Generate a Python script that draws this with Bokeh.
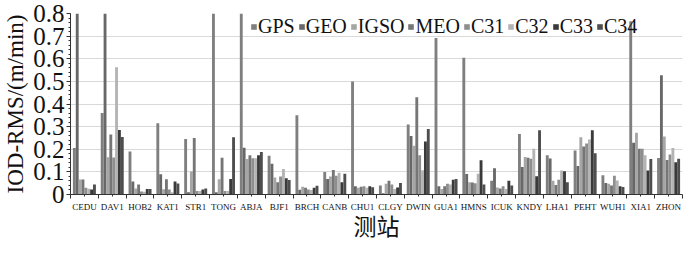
import numpy as np
from bokeh.plotting import figure
from bokeh.models import (Range1d, FixedTicker, SingleIntervalTicker, CustomJSTickFormatter,
                          Legend, LegendItem, ColumnDataSource)
from bokeh.embed import file_html
from bokeh.resources import INLINE

stations = ["CEDU", "DAV1", "HOB2", "KAT1", "STR1", "TONG", "ABJA", "BJF1", "BRCH", "CANB", "CHU1",
            "CLGY", "DWIN", "GUA1", "HMNS", "ICUK", "KNDY", "LHA1", "PEHT", "WUH1", "XIA1", "ZHON"]
series_names = ["GPS", "GEO", "IGSO", "MEO", "C31", "C32", "C33", "C34"]

GPS = [0.205, 0.36, 0.19, 0.315, 0.245, 0.9, 0.9, 0.171, 0.35, 0.099, 0.5, 0.04, 0.309, 0.692, 0.604, 0.061, 0.267, 0.174, 0.195, 0.085, 0.766, 0.161]
GEO = [0.9, 0.9, 0.057, 0.09, 0.01, 0.01, 0.207, 0.136, 0.021, 0.068, 0.037, 0.005, 0.259, 0.037, 0.091, 0.116, 0.122, 0.159, 0.126, 0.051, 0.229, 0.527]
IGSO = [0.066, 0.165, 0.026, 0.023, 0.102, 0.067, 0.157, 0.075, 0.034, 0.08, 0.03, 0.047, 0.215, 0.024, 0.054, 0.031, 0.166, 0.061, 0.253, 0.047, 0.273, 0.256]
MEO = [0.066, 0.265, 0.044, 0.067, 0.25, 0.162, 0.174, 0.054, 0.03, 0.108, 0.034, 0.061, 0.43, 0.037, 0.053, 0.027, 0.162, 0.042, 0.212, 0.04, 0.202, 0.152]
C31 = [0.03, 0.164, 0.013, 0.022, 0.015, 0.016, 0.16, 0.08, 0.022, 0.083, 0.037, 0.044, 0.174, 0.047, 0.05, 0.037, 0.158, 0.065, 0.225, 0.083, 0.202, 0.177]
C32 = [0.025, 0.562, 0.012, 0.01, 0.015, 0.016, 0.16, 0.113, 0.02, 0.096, 0.03, 0.024, 0.107, 0.044, 0.092, 0.024, 0.202, 0.106, 0.243, 0.062, 0.174, 0.206]
C33 = [0.022, 0.285, 0.024, 0.058, 0.022, 0.068, 0.173, 0.072, 0.03, 0.054, 0.037, 0.031, 0.234, 0.065, 0.151, 0.061, 0.081, 0.103, 0.284, 0.037, 0.106, 0.143]
C34 = [0.044, 0.254, 0.024, 0.049, 0.026, 0.253, 0.188, 0.064, 0.039, 0.092, 0.032, 0.051, 0.289, 0.068, 0.044, 0.04, 0.284, 0.054, 0.182, 0.033, 0.157, 0.158]

all_series = [GPS, GEO, IGSO, MEO, C31, C32, C33, C34]
colors = ["#7f7f7f", "#686868", "#a6a6a6", "#767676", "#8e8e8e", "#b4b4b4", "#3a3a3a", "#4e4e4e"]

SERIF = "Liberation Serif"

n = len(stations)
p = figure(width=684, height=244, output_backend="svg", toolbar_location=None,
           x_range=Range1d(0, n), y_range=Range1d(0, 0.8),
           min_border_top=13, min_border_right=2, min_border_left=0, min_border_bottom=0)
p.outline_line_color = None
p.background_fill_color = "white"
p.border_fill_color = "white"
p.xgrid.visible = False
p.ygrid.grid_line_color = "#d9d9d9"
p.ygrid.grid_line_width = 1

group_frac = 0.826
bw = group_frac / len(series_names)
start = (1 - group_frac) / 2
base = np.arange(n)

items = []
for k, (name, vals, col) in enumerate(zip(series_names, all_series, colors)):
    src = ColumnDataSource(dict(x=base + start + bw * (k + 0.5), top=vals))
    r = p.vbar(x="x", top="top", width=bw, source=src, fill_color=col, line_color=None)
    items.append(LegendItem(label=name, renderers=[r]))

legend = Legend(items=items, orientation="horizontal", location=(180, 156),
                background_fill_alpha=0, border_line_color=None,
                label_text_font=SERIF, label_text_font_size="20px", label_text_color="#111111",
                glyph_width=7, glyph_height=7, label_standoff=1, spacing=3,
                padding=0, margin=0, label_height=22)
p.add_layout(legend)

# y axis
yax = p.yaxis[0]
yax.ticker = SingleIntervalTicker(interval=0.1, num_minor_ticks=5)
yax.formatter = CustomJSTickFormatter(code="return Math.abs(tick) < 1e-9 ? '0' : tick.toFixed(1);")
yax.major_label_text_font = SERIF
yax.major_label_text_font_size = "25px"
yax.major_label_text_color = "#111111"
yax.major_label_standoff = 2
yax.major_tick_out = 4
yax.major_tick_in = 0
yax.minor_tick_out = 2
yax.minor_tick_in = 0
yax.axis_line_color = "#333333"
yax.major_tick_line_color = "#333333"
yax.minor_tick_line_color = "#333333"
yax.axis_label = "IOD-RMS/(m/min)"
yax.axis_label_text_font = SERIF
yax.axis_label_text_font_style = "normal"
yax.axis_label_text_font_size = "23px"
yax.axis_label_text_color = "#111111"
yax.axis_label_standoff = 2

# x axis
xax = p.xaxis[0]
centers = [i + 0.5 for i in range(n)]
bounds = [float(i) for i in range(n + 1)]
xax.ticker = FixedTicker(ticks=centers, minor_ticks=bounds)
xax.formatter = CustomJSTickFormatter(args=dict(names=stations),
                                      code="return names[Math.floor(tick)];")
xax.major_label_text_font = SERIF
xax.major_label_text_font_size = "9px"
xax.major_label_text_color = "#111111"
xax.major_label_standoff = 3
xax.major_tick_out = 2
xax.major_tick_in = 0
xax.minor_tick_out = 4
xax.minor_tick_in = 0
xax.axis_line_color = "#333333"
xax.major_tick_line_color = "#333333"
xax.minor_tick_line_color = "#333333"
xax.axis_label = "测站"
xax.axis_label_text_font = "Noto Sans CJK SC"
xax.axis_label_text_font_style = "normal"
xax.axis_label_text_font_size = "23px"
xax.axis_label_text_color = "#111111"
xax.axis_label_standoff = -7

open("out.html", "w").write(file_html(p, INLINE))
